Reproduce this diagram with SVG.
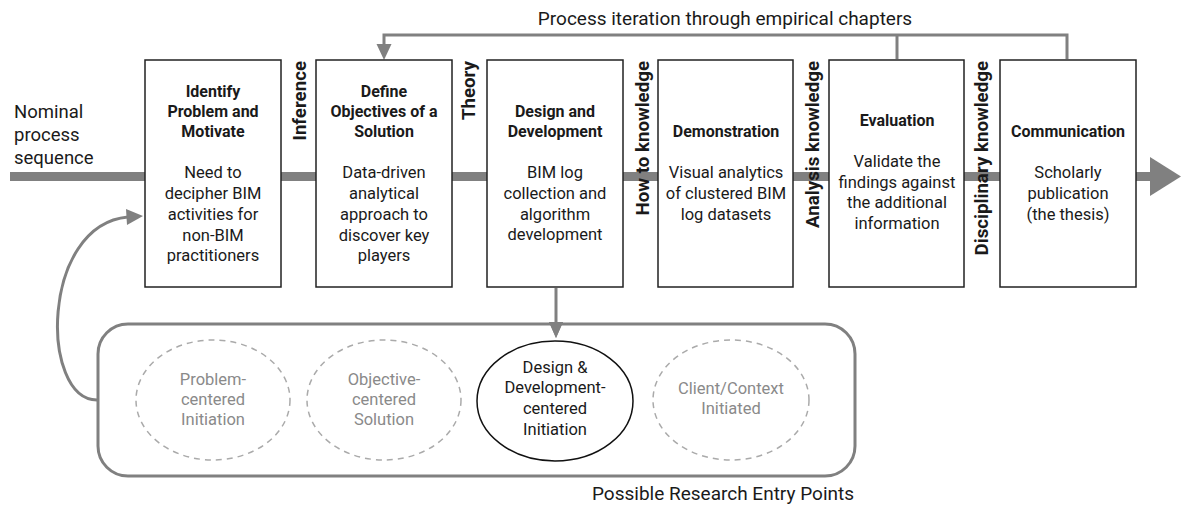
<svg xmlns="http://www.w3.org/2000/svg" width="1183" height="506" viewBox="0 0 1183 506">
<style>
text{font-family:Roboto,"Liberation Sans",sans-serif;fill:#1a1a1a}
.t{font-size:16px;font-weight:bold;text-anchor:middle}
.b{font-size:16.5px;text-anchor:middle}
.v{font-size:18.7px;font-weight:bold;text-anchor:end}
.box{fill:#fff;stroke:#222;stroke-width:1.5}
.g{fill:none;stroke:#808080;stroke-width:3}
.dash{fill:#fff;stroke:#aaa;stroke-width:1.5;stroke-dasharray:6 5}
.gt{font-size:16.5px;text-anchor:middle;fill:#8a8a8a}
</style>
<rect width="1183" height="506" fill="#fff"/>
<g id="connectors">
<rect x="10" y="172" width="1142" height="9" fill="#808080"/>
<path d="M1150,157 L1181,176.5 L1150,196 z" fill="#808080"/>
<path class="g" d="M1067,59 V35 H384 V46"/>
<path d="M376.5,44 L391.5,44 L384,60 z" fill="#808080"/>
<path class="g" d="M897,59 V35"/>
<path class="g" d="M556,288 V324"/>
<path d="M549,322 L563,322 L556,338 z" fill="#808080"/>
<path class="g" d="M97,400 C40,400 40,225 128,217"/>
<path d="M126,209 L143,216 L127,225 z" fill="#808080"/>
</g>
<text x="725" y="25" style="font-size:19px;text-anchor:middle">Process iteration through empirical chapters</text>
<g id="nominal">
<text x="14" y="118" style="font-size:18.5px">Nominal</text>
<text x="14" y="141" style="font-size:18.5px">process</text>
<text x="14" y="164" style="font-size:18.5px">sequence</text>
</g>
<g id="n1">
<rect class="box" x="145" y="60" width="136" height="227"/>
<text class="t" x="213" y="97">Identify</text>
<text class="t" x="213" y="117">Problem and</text>
<text class="t" x="213" y="137">Motivate</text>
<text class="b" x="213" y="178">Need to</text>
<text class="b" x="213" y="199">decipher BIM</text>
<text class="b" x="213" y="220">activities for</text>
<text class="b" x="213" y="241">non-BIM</text>
<text class="b" x="213" y="261">practitioners</text>
</g>
<g id="n2">
<rect class="box" x="316" y="60" width="136" height="227"/>
<text class="t" x="384" y="97">Define</text>
<text class="t" x="384" y="117">Objectives of a</text>
<text class="t" x="384" y="137">Solution</text>
<text class="b" x="384" y="178">Data-driven</text>
<text class="b" x="384" y="199">analytical</text>
<text class="b" x="384" y="220">approach to</text>
<text class="b" x="384" y="241">discover key</text>
<text class="b" x="384" y="261">players</text>
</g>
<g id="n3">
<rect class="box" x="487" y="60" width="136" height="227"/>
<text class="t" x="555" y="117">Design and</text>
<text class="t" x="555" y="137">Development</text>
<text class="b" x="555" y="178">BIM log</text>
<text class="b" x="555" y="199">collection and</text>
<text class="b" x="555" y="220">algorithm</text>
<text class="b" x="555" y="240">development</text>
</g>
<g id="n4">
<rect class="box" x="658" y="60" width="135" height="227"/>
<text class="t" x="726" y="137">Demonstration</text>
<text class="b" x="726" y="178">Visual analytics</text>
<text class="b" x="726" y="199">of clustered BIM</text>
<text class="b" x="726" y="220">log datasets</text>
</g>
<g id="n5">
<rect class="box" x="829" y="60" width="135" height="227"/>
<text class="t" x="897" y="126">Evaluation</text>
<text class="b" x="897" y="167">Validate the</text>
<text class="b" x="897" y="188">findings against</text>
<text class="b" x="897" y="208">the additional</text>
<text class="b" x="897" y="229">information</text>
</g>
<g id="n6">
<rect class="box" x="1000" y="60" width="136" height="227"/>
<text class="t" x="1068" y="137">Communication</text>
<text class="b" x="1068" y="178">Scholarly</text>
<text class="b" x="1068" y="199">publication</text>
<text class="b" x="1068" y="220">(the thesis)</text>
</g>
<g id="labels">
<text class="v" x="306" y="61" transform="rotate(-90 306 61)">Inference</text>
<text class="v" x="475" y="61" transform="rotate(-90 475 61)">Theory</text>
<text class="v" x="649" y="61" transform="rotate(-90 649 61)">How to knowledge</text>
<text class="v" x="819" y="61" transform="rotate(-90 819 61)">Analysis knowledge</text>
<text class="v" x="988" y="61" transform="rotate(-90 988 61)">Disciplinary knowledge</text>
</g>
<g id="entry">
<rect x="98" y="324" width="757" height="152" rx="30" fill="none" stroke="#808080" stroke-width="3"/>
<path d="M549,322 L563,322 L556,338 z" fill="#808080"/>
<text x="723" y="500" style="font-size:19px;text-anchor:middle">Possible Research Entry Points</text>
</g>
<g id="e1">
<ellipse class="dash" cx="213" cy="400" rx="77" ry="60"/>
<text class="gt" x="213" y="385">Problem-</text>
<text class="gt" x="213" y="405">centered</text>
<text class="gt" x="213" y="425">Initiation</text>
</g>
<g id="e2">
<ellipse class="dash" cx="384" cy="400" rx="77" ry="60"/>
<text class="gt" x="384" y="385">Objective-</text>
<text class="gt" x="384" y="405">centered</text>
<text class="gt" x="384" y="425">Solution</text>
</g>
<g id="e3">
<ellipse cx="555" cy="401" rx="78" ry="60" fill="#fff" stroke="#111" stroke-width="1.5"/>
<text class="b" x="555" y="373">Design &amp;</text>
<text class="b" x="555" y="393">Development-</text>
<text class="b" x="555" y="414">centered</text>
<text class="b" x="555" y="435">Initiation</text>
</g>
<g id="e4">
<ellipse class="dash" cx="731" cy="400" rx="78" ry="60"/>
<text class="gt" x="731" y="394">Client/Context</text>
<text class="gt" x="731" y="414">Initiated</text>
</g>
</svg>
